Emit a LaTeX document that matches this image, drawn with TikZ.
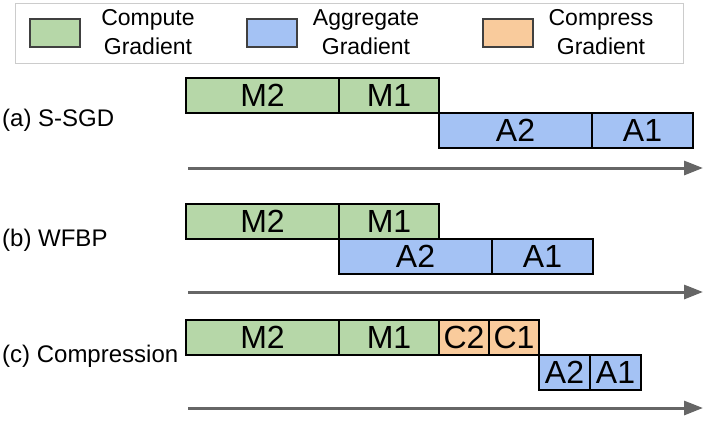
\documentclass[tikz,border=0pt]{standalone}
\usepackage{fontspec}
\setmainfont{Liberation Sans}
\usetikzlibrary{arrows.meta}
\definecolor{cgreen}{HTML}{B6D7A8}
\definecolor{cblue}{HTML}{A4C2F4}
\definecolor{corange}{HTML}{F9CB9C}
\definecolor{arrowgray}{HTML}{666666}
\definecolor{legendgray}{HTML}{CCCCCC}
\definecolor{swatchborder}{HTML}{404040}
\begin{document}
\begin{tikzpicture}[x=1pt,y=-1pt,
  blk/.style={draw=black,line width=1.2pt,inner sep=0pt,outer sep=0pt,anchor=north west,
    minimum height=35pt,font=\fontsize{32}{36}\selectfont},
  gblk/.style={blk,fill=cgreen},
  bblk/.style={blk,fill=cblue},
  oblk/.style={blk,fill=corange},
  swatch/.style={draw=swatchborder,line width=1.4pt,inner sep=0pt,outer sep=0pt,anchor=north west,
    minimum width=50pt,minimum height=28pt},
  legtext/.style={align=center,inner sep=0pt,font=\fontsize{23}{29}\selectfont},
  rowlabel/.style={anchor=west,inner sep=0pt,font=\fontsize{24}{28}\selectfont},
  timeline/.style={draw=arrowgray,line width=3pt,-{Triangle[length=19pt,width=14pt]}}
]
\useasboundingbox (0,0) rectangle (706,424);
% legend
\node[draw=legendgray,line width=1.2pt,inner sep=0pt,anchor=north west,minimum width=668pt,minimum height=60pt] (legend) at (15,3) {};
\node[swatch,fill=cgreen] (sw-g) at (30,19) {};
\node[swatch,fill=cblue] (sw-b) at (247,19) {};
\node[swatch,fill=corange] (sw-o) at (483,19) {};
\node[legtext] (lt-g) at (148,32.5) {Compute\\Gradient};
\node[legtext] (lt-b) at (366,32.5) {Aggregate\\Gradient};
\node[legtext] (lt-o) at (601,32.5) {Compress\\Gradient};
% row a
\node[rowlabel] (la) at (2,120) {(a) S-SGD};
\node[gblk,minimum width=153pt] (a-m2) at (186,78) {M2};
\node[gblk,minimum width=100pt] (a-m1) at (339,78) {M1};
\node[bblk,minimum width=153pt] (a-a2) at (439,113) {A2};
\node[bblk,minimum width=101pt] (a-a1) at (592,113) {A1};
\coordinate (a-s) at (188,168);
\coordinate (a-e) at (703,168);
\draw[timeline] (a-s) -- (a-e);
% row b
\node[rowlabel] (lb) at (2,240) {(b) WFBP};
\node[gblk,minimum width=153pt] (b-m2) at (186,204) {M2};
\node[gblk,minimum width=100pt] (b-m1) at (339,204) {M1};
\node[bblk,minimum width=153pt] (b-a2) at (339,239) {A2};
\node[bblk,minimum width=101pt] (b-a1) at (492,239) {A1};
\coordinate (b-s) at (188,292);
\coordinate (b-e) at (703,292);
\draw[timeline] (b-s) -- (b-e);
% row c
\node[rowlabel] (lc) at (2,356) {(c) Compression};
\node[gblk,minimum width=153pt] (c-m2) at (186,320) {M2};
\node[gblk,minimum width=100pt] (c-m1) at (339,320) {M1};
\node[oblk,minimum width=50pt] (c-c2) at (439,320) {C2};
\node[oblk,minimum width=50pt] (c-c1) at (489,320) {C1};
\node[bblk,minimum width=51pt] (c-a2) at (539,355) {A2};
\node[bblk,minimum width=51pt] (c-a1) at (590,355) {A1};
\coordinate (c-s) at (188,408);
\coordinate (c-e) at (703,408);
\draw[timeline] (c-s) -- (c-e);
\end{tikzpicture}
\end{document}
